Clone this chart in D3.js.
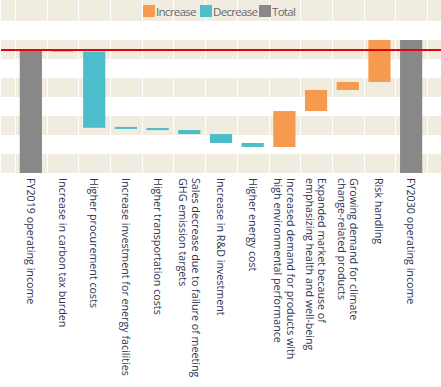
<!DOCTYPE html>
<html>
<head>
<meta charset="utf-8">
<script src="https://cdn.jsdelivr.net/npm/d3@7"></script>
<style>
  body { margin: 0; background: #fff; }
  svg { display: block; font-family: "Open Sans", sans-serif; }
</style>
</head>
<body>
<div id="chart"></div>
<script>
// categories (multi-line labels split on "|")
var categories = [
  "FY2019 operating income",
  "Increase in carbon tax burden",
  "Higher procurement costs",
  "Increase investment for energy facilities",
  "Higher transportation costs",
  "Sales decrease due to failure of meeting|GHG emission targets",
  "Increase in R&D investment",
  "Higher energy cost",
  "Increased demand for products with|high environmental performance",
  "Expanded market because of|emphasizing health and well-being",
  "Growing demand for climate|change-related products",
  "Risk handling",
  "FY2030 operating income"
];
// change per step (totals marked with null)
var changes = [null, -0.8, -40.1, -0.6, -0.6, -2.1, -4.7, -2.1, 18.9, 11.1, 4.2, 22.1, null];
var totals = [64.7, null, null, null, null, null, null, null, null, null, null, null, 70.0];
var yTicks = [0, 10, 20, 30, 40, 50, 60, 70, 80, 90];
var legendItems = ["Increase", "Decrease", "Total"];

var colors = {Increase: "#f59a4f", Decrease: "#4cbdcb", Total: "#888888"};

var W = 441, H = 387;
var svg = d3.select("#chart").append("svg").attr("width", W).attr("height", H);

var x = d3.scaleBand().domain(categories).range([15, 427]);
var y = d3.scaleLinear().domain([0, 90]).range([173, 2]);

// build waterfall steps
var steps = [];
var run = 0;
categories.forEach(function(c, i) {
  if (totals[i] != null) {
    steps.push({name: c, lo: 0, hi: totals[i], type: "Total"});
    run = totals[i];
  } else {
    var next = run + changes[i];
    steps.push({name: c, lo: Math.min(run, next), hi: Math.max(run, next),
      type: changes[i] >= 0 ? "Increase" : "Decrease"});
    run = next;
  }
});

// stripes
for (var i = 0; i < yTicks.length - 1; i += 2) {
  var yTop = y(yTicks[i + 1]);
  if (i + 1 == yTicks.length - 1) yTop = 0;
  svg.append("rect")
    .attr("x", 1).attr("width", W - 1)
    .attr("y", yTop).attr("height", y(yTicks[i]) - yTop)
    .attr("fill", "#f0ecdf");
}

// vertical grid lines
var gridX = categories.map(function(c) { return x(c); }).concat([x.range()[1]]);
svg.append("g").selectAll("line")
  .data(gridX)
  .join("line")
  .attr("x1", function(d) { return Math.round(d) + 0.5; })
  .attr("x2", function(d) { return Math.round(d) + 0.5; })
  .attr("y1", 0).attr("y2", y(0))
  .attr("stroke", "#fff").attr("stroke-width", 1);

// bars
var barW = x.bandwidth() * 0.7;
svg.append("g").selectAll("rect")
  .data(steps)
  .join("rect")
  .attr("x", function(d) { return x(d.name) + (x.bandwidth() - barW) / 2; })
  .attr("width", barW)
  .attr("y", function(d) {
    var h = y(d.lo) - y(d.hi);
    return h < 2 ? y(d.lo) - 2 : y(d.hi);
  })
  .attr("height", function(d) { return Math.max(2, y(d.lo) - y(d.hi)); })
  .attr("fill", function(d) { return colors[d.type]; });

// reference line at FY2019 level
svg.append("line")
  .attr("x1", 1).attr("x2", W)
  .attr("y1", y(totals[0])).attr("y2", y(totals[0]))
  .attr("stroke", "#e8000b").attr("stroke-width", 2);

// x labels, rotated
var lab = svg.append("g").attr("font-size", 10.7).attr("fill", "#2b3352");
categories.forEach(function(c) {
  var lines = c.split("|");
  var cx = x(c) + x.bandwidth() / 2;
  var n = lines.length;
  var t = lab.append("text")
    .attr("transform", "translate(" + cx + ",178) rotate(90)");
  lines.forEach(function(l, k) {
    t.append("tspan")
      .attr("x", 0)
      .attr("y", 0)
      .attr("dy", (k - (n - 1) / 2) * 12.5 + 4 + "px")
      .text(l);
  });
});

// legend
var lg = svg.append("g").attr("font-size", 11.5).attr("letter-spacing", -0.7).attr("fill", "#666873");
var lx = [143, 200, 259];
legendItems.forEach(function(k, i) {
  lg.append("rect").attr("x", lx[i]).attr("y", 5).attr("width", 12).attr("height", 12)
    .attr("fill", colors[k]);
  lg.append("text").attr("x", lx[i] + 13).attr("y", 15.5).text(k);
});
</script>
</body>
</html>
